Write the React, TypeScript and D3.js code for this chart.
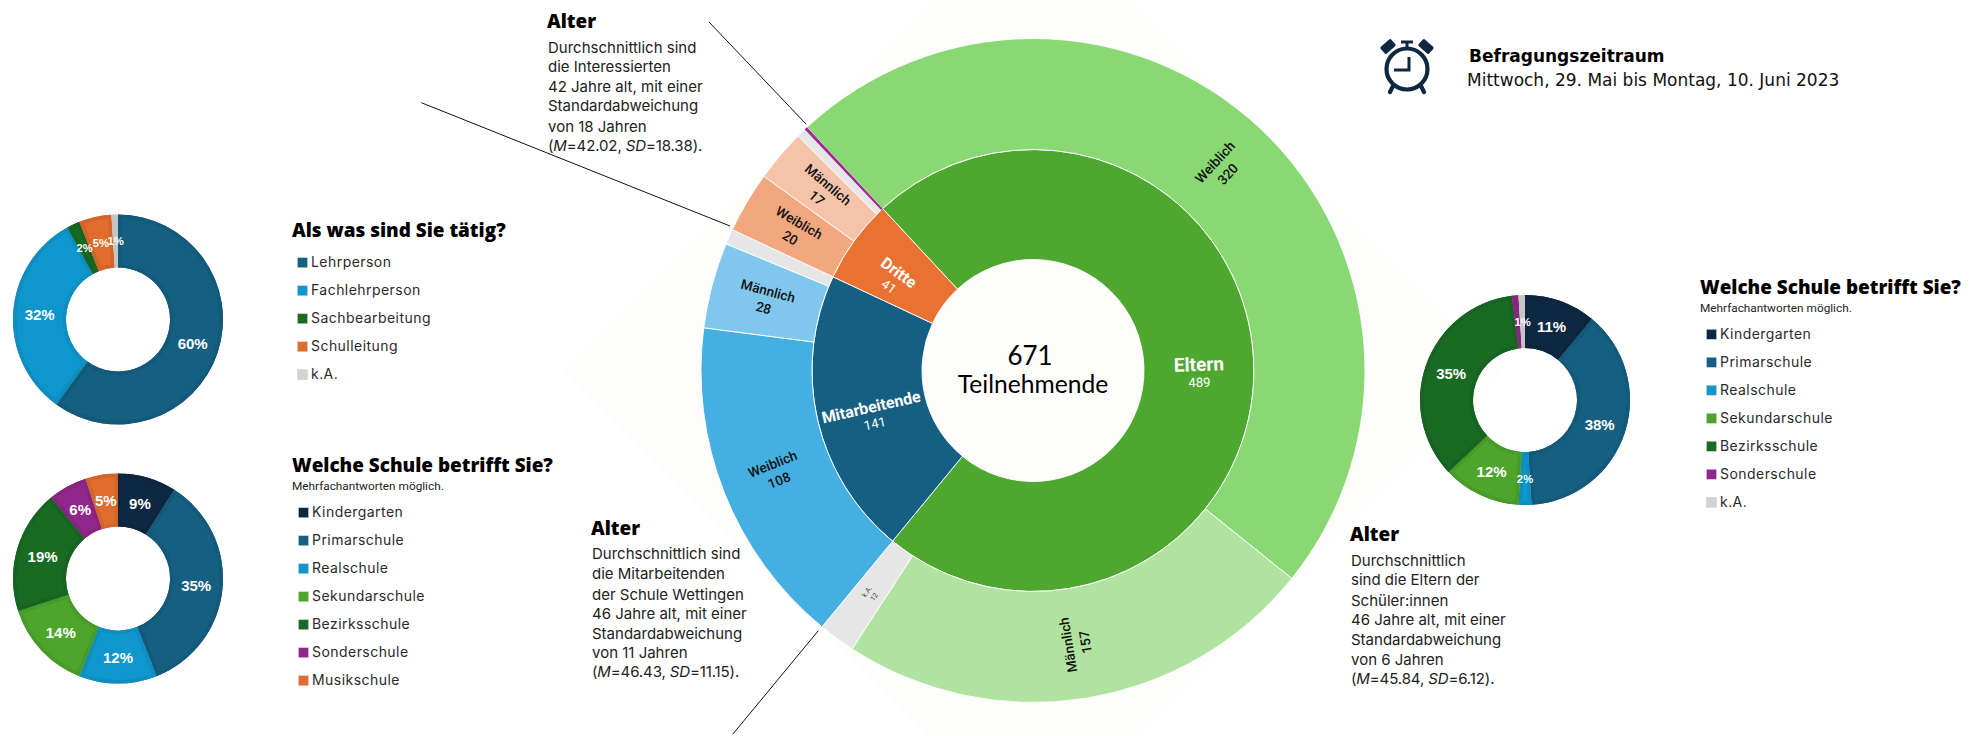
import React from "react";
import * as d3 from "d3";

// Sunburst: participants by group, then by gender
const groupNames = ["Eltern", "Mitarbeitende", "Dritte"];
const elternGender = ["Weiblich", "Männlich", "k.A."];
const elternCounts = [320, 157, 12];
const mitarbeitendeGender = ["Weiblich", "Männlich", "k.A."];
const mitarbeitendeCounts = [108, 28, 5];
const dritteGender = ["Weiblich", "Männlich", "k.A.", "Andere"];
const dritteCounts = [20, 17, 3, 1];

// Role and school donuts (percent)
const roleNames = ["Lehrperson", "Fachlehrperson", "Sachbearbeitung", "Schulleitung", "k.A."];
const rolePct = [60, 32, 2, 5, 1];
const staffSchoolNames = ["Kindergarten", "Primarschule", "Realschule", "Sekundarschule", "Bezirksschule", "Sonderschule", "Musikschule"];
const staffSchoolPct = [9, 35, 12, 14, 19, 6, 5];
const parentSchoolNames = ["Kindergarten", "Primarschule", "Realschule", "Sekundarschule", "Bezirksschule", "Sonderschule", "k.A."];
const parentSchoolPct = [11, 38, 2, 12, 35, 1, 1];

const ageNotesDritte = ["Durchschnittlich sind", "die Interessierten", "42 Jahre alt, mit einer", "Standardabweichung", "von 18 Jahren"];
const ageNotesStaff = ["Durchschnittlich sind", "die Mitarbeitenden", "der Schule Wettingen", "46 Jahre alt, mit einer", "Standardabweichung", "von 11 Jahren"];
const ageNotesParents = ["Durchschnittlich", "sind die Eltern der", "Schüler:innen", "46 Jahre alt, mit einer", "Standardabweichung", "von 6 Jahren"];

const INK = "#0E2841";
const BODY = "Inter, sans-serif";
const HEAD = "'Open Sans', sans-serif";
const LABEL = "Roboto, sans-serif";

const sliceColor: Record<string, string> = {
  Lehrperson: "#155F81", Fachlehrperson: "#0F96CC", Sachbearbeitung: "#196B24", Schulleitung: "#E06C2E",
  "k.A.": "#D2D2D2", Kindergarten: "#0E2841", Primarschule: "#155F81", Realschule: "#0F96CC",
  Sekundarschule: "#4EA52C", Bezirksschule: "#196B24", Sonderschule: "#90278A", Musikschule: "#E06C2E",
};

const ringColor: Record<string, { base: string; kids: Record<string, string> }> = {
  Eltern: { base: "#4EA72E", kids: { Weiblich: "#8AD873", "Männlich": "#B1E3A0", "k.A.": "#E6E6E6" } },
  Mitarbeitende: { base: "#156082", kids: { Weiblich: "#45AFE2", "Männlich": "#7FC7EC", "k.A.": "#E6E6E6" } },
  Dritte: { base: "#E97132", kids: { Weiblich: "#F3A77F", "Männlich": "#F5C3A9", "k.A.": "#E6E6E6", Andere: "#A02B93" } },
};

function Sunburst({ cx, cy }: { cx: number; cy: number }) {
  const kids = [
    elternGender.map((name, i) => ({ name, value: elternCounts[i] })),
    mitarbeitendeGender.map((name, i) => ({ name, value: mitarbeitendeCounts[i] })),
    dritteGender.map((name, i) => ({ name, value: dritteCounts[i] })),
  ];
  const tree = { name: "root", children: groupNames.map((name, i) => ({ name, children: kids[i] })) };
  const root = d3.hierarchy<any>(tree).sum((d) => d.value ?? 0);
  const startDeg = -42.9;
  d3.partition<any>().size([2 * Math.PI, 3])(root);
  const radius = d3.scaleLinear().domain([1, 2, 3]).range([111, 221, 332]);
  const arc = d3.arc<any>()
    .startAngle((d) => d.x0 + (startDeg * Math.PI) / 180)
    .endAngle((d) => d.x1 + (startDeg * Math.PI) / 180)
    .innerRadius((d) => radius(d.y0))
    .outerRadius((d) => radius(d.y1));
  const nodes = root.descendants().filter((d) => d.depth > 0);
  const fill = (d: any) => d.depth === 1 ? ringColor[d.data.name].base : ringColor[d.parent.data.name].kids[d.data.name];

  return (
    <g transform={`translate(${cx},${cy})`}>
      {nodes.map((d, i) => (
        <path key={i} d={arc(d)!} fill={fill(d)} stroke="#fff" strokeWidth={d.data.name === "Andere" ? 0 : 0.9} />
      ))}
      {nodes.map((d: any, i) => {
        const span = ((d.x1 - d.x0) * 180) / Math.PI;
        if (d.depth === 2 && span < 5) return null;
        const a = ((d.x0 + d.x1) * 90) / Math.PI + startDeg;
        const norm = (a + 360) % 360;
        const [x, y] = arc.centroid(d);
        // Labels follow the radius; the lower half reads towards the centre
        const rot = norm < 150 ? norm - 90 : norm + 90;
        if (d.depth === 1) {
          return (
            <g key={i} transform={`translate(${x},${y}) rotate(${rot})`} fill="#fff" textAnchor="middle" fontFamily={LABEL}>
              <text y={5.5} fontSize={d.value > 200 ? 19 : 16} fontWeight={700}>{d.data.name}</text>
              <text y={21.5} fontSize={13}>{d.value}</text>
            </g>
          );
        }
        const tiny = span < 8;
        return (
          <g key={i} transform={`translate(${x},${y}) rotate(${rot})`} fill={tiny ? "#444" : "#111"} fontWeight={tiny ? 400 : 500} textAnchor="middle" fontFamily={LABEL}>
            <text y={tiny ? -1 : -4} fontSize={tiny ? 7 : 13.5}>{d.data.name}</text>
            <text y={tiny ? 8 : 13.5} fontSize={tiny ? 7 : 13.5}>{d.value}</text>
          </g>
        );
      })}
      <text y={-6} x={-3} textAnchor="middle" fontFamily="Lato, sans-serif" fontSize={26} fill="#000">{root.value}</text>
      <text y={22} textAnchor="middle" fontFamily="Lato, sans-serif" fontSize={24.6} fill="#000">Teilnehmende</text>
    </g>
  );
}

function Donut({ id, cx, cy, names, values, smallUpTo }: { id: string; cx: number; cy: number; names: string[]; values: number[]; smallUpTo: number }) {
  const slices = d3.pie<number>().sort(null)(values);
  const arc = d3.arc<d3.PieArcDatum<number>>().innerRadius(52).outerRadius(105);
  return (
    <g transform={`translate(${cx},${cy})`}>
      <defs>
        {slices.map((s, i) => (
          <clipPath key={i} id={`${id}-${i}`}><path d={arc(s)!} /></clipPath>
        ))}
      </defs>
      {slices.map((s, i) => {
        const c = sliceColor[names[i]];
        return (
          <g key={i}>
            <path d={arc(s)!} fill={c} />
            <path d={arc(s)!} fill="none" stroke={d3.color(c)!.darker(0.18).formatHex()} strokeWidth={7} clipPath={`url(#${id}-${i})`} />
          </g>
        );
      })}
      {slices.map((s, i) => {
        // Two neighbouring 1% slices share a single printed label
        if (s.data <= 1 && i + 1 < values.length && values[i + 1] <= 1) return null;
        const [x, y] = arc.centroid(s);
        const small = s.data <= smallUpTo;
        return (
          <text key={i} x={x} y={y + (small ? 4 : 5.5)} textAnchor="middle" fill="#fff" fontWeight={700}
            fontFamily="'Liberation Sans', sans-serif" fontSize={small ? 11.3 : 15}>{s.data}%</text>
        );
      })}
    </g>
  );
}

function Legend({ x, y, title, note, names, firstRow, swatchInset }: { x: number; y: number; title: string; note?: string; names: string[]; firstRow: number; swatchInset: number }) {
  const row = d3.scalePoint<number>().domain(names.map((_, i) => i)).range([firstRow, firstRow + 28 * (names.length - 1)]);
  return (
    <g>
      <text x={x} y={y} fontFamily={HEAD} fontWeight={800} fontSize={18.9} fill="#000">{title}</text>
      {note && <text x={x} y={y + 18} fontFamily={LABEL} fontSize={11.8} fill="#222">{note}</text>}
      {names.map((n, i) => (
        <g key={n}>
          <rect x={x + swatchInset} y={row(i)! - 5} width={10} height={10} fill={sliceColor[n]} stroke="#cfcfcf" strokeWidth={0.5} />
          <text x={x + swatchInset + 13.5} y={row(i)! + 4.5} fontFamily={BODY} fontSize={14} letterSpacing={0.45} fill="#2a2a2a">{n}</text>
        </g>
      ))}
    </g>
  );
}

function AgeNote({ x, y, lines, lineYs, stats }: { x: number; y: number; lines: string[]; lineYs: number[]; stats: [string, string] }) {
  return (
    <g>
      <text x={x - 1} y={y} fontFamily={HEAD} fontWeight={800} fontSize={18.9} fill="#000">Alter</text>
      <g fontFamily={BODY} fontSize={15} fill="#222">
        {lines.map((l, i) => <text key={i} x={x} y={lineYs[i]}>{l}</text>)}
        <text x={x} y={lineYs[lines.length]} letterSpacing={-0.12}>
          (<tspan fontStyle="italic">M</tspan>={stats[0]}, <tspan fontStyle="italic">SD</tspan>={stats[1]}).
        </text>
      </g>
    </g>
  );
}

function AlarmClock() {
  return (
    <g fill="none" stroke={INK} strokeWidth={4.2}>
      <circle cx={1407} cy={69} r={20.5} />
      <path d="M1409 57V70H1394" strokeWidth={3} />
      <path d="M1407 43V48M1401 42H1413" strokeWidth={3} />
      <path d="M1393 86L1390 92M1421 86L1424 92" strokeLinecap="round" />
      <rect x={1381} y={42} width={14} height={9} rx={1.5} fill={INK} stroke="none" transform="rotate(-42 1388 46.5)" />
      <rect x={1419} y={42} width={14} height={9} rx={1.5} fill={INK} stroke="none" transform="rotate(42 1426 46.5)" />
    </g>
  );
}

export default function App() {
  return (
    <svg width={1982} height={736} style={{ position: "absolute", left: 0, top: 0, background: "#fff" }}>
      <polygon points="1033,-100 1503,370 1033,840 563,370" fill="#FDFDFC" />

      <Sunburst cx={1033} cy={370.5} />

      <Donut id="role" cx={118} cy={319.5} names={roleNames} values={rolePct} smallUpTo={5} />
      <Donut id="staff" cx={118} cy={578.5} names={staffSchoolNames} values={staffSchoolPct} smallUpTo={0} />
      <Donut id="parents" cx={1525} cy={400} names={parentSchoolNames} values={parentSchoolPct} smallUpTo={2} />

      <Legend x={292} y={236.5} title="Als was sind Sie tätig?" names={roleNames} firstRow={262.7} swatchInset={5.5} />
      <Legend x={292} y={471.5} title="Welche Schule betrifft Sie?" note="Mehrfachantworten möglich." names={staffSchoolNames} firstRow={512.7} swatchInset={6.5} />
      <Legend x={1700} y={294} title="Welche Schule betrifft Sie?" note="Mehrfachantworten möglich." names={parentSchoolNames} firstRow={334.3} swatchInset={6.5} />

      <AgeNote x={548} y={28} lines={ageNotesDritte} lineYs={[53, 72, 92, 111, 132, 151]} stats={["42.02", "18.38"]} />
      <AgeNote x={592} y={535} lines={ageNotesStaff} lineYs={[559, 579, 600, 619, 639, 658, 677]} stats={["46.43", "11.15"]} />
      <AgeNote x={1351} y={540.7} lines={ageNotesParents} lineYs={[565.7, 585, 605.7, 625, 645, 665, 684]} stats={["45.84", "6.12"]} />

      <g stroke="#111" strokeWidth={1}>
        <line x1={709} y1={22} x2={806} y2={124} />
        <line x1={421.3} y1={102.7} x2={730} y2={226} />
        <line x1={818.3} y1={630.7} x2={732.7} y2={734.3} />
      </g>

      <AlarmClock />
      <text x={1469} y={61.7} fontFamily="'DejaVu Sans', sans-serif" fontWeight={700} fontSize={17} fill="#000">Befragungszeitraum</text>
      <text x={1467} y={86} fontFamily="'DejaVu Sans', sans-serif" fontSize={17} fill="#111">Mittwoch, 29. Mai bis Montag, 10. Juni 2023</text>
    </svg>
  );
}
